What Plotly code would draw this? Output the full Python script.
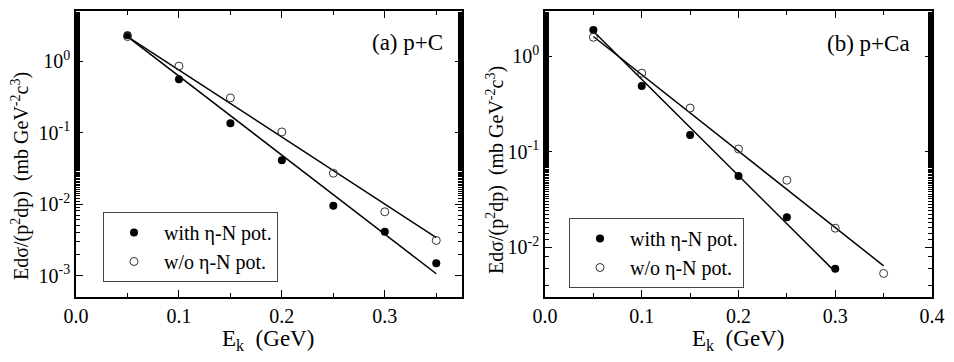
import plotly.graph_objects as go

# Ek values (GeV)
ek = [0.05, 0.10, 0.15, 0.20, 0.25, 0.30, 0.35]
ek_ca_with = [0.05, 0.10, 0.15, 0.20, 0.25, 0.30]

# (a) p+C
c_with = [2.3, 0.556, 0.135, 0.041, 0.0095, 0.0041, 0.00149]
c_wo = [2.2, 0.85, 0.305, 0.102, 0.027, 0.0078, 0.0031]
c_fit_x = [0.05, 0.35]
c_fit_with = [2.2, 0.00106]
c_fit_wo = [2.2, 0.0034]

# (b) p+Ca
ca_with = [1.9, 0.489, 0.15, 0.0559, 0.0206, 0.00593]
ca_wo = [1.59, 0.668, 0.288, 0.107, 0.0503, 0.0158, 0.0053]
ca_fit_with_x = [0.05, 0.30]
ca_fit_with = [1.84, 0.0055]
ca_fit_wo_x = [0.05, 0.35]
ca_fit_wo = [1.62, 0.00637]

FONT = "Liberation Serif, Times New Roman, serif"
# the page body has an 8px margin, so the figure is shrunk and shifted to fit the window
OFF = 8
W, H = 954 - 2 * OFF, 362 - 2 * OFF

def px(x):
    return (x - OFF) / W

def py(y):
    return 1 - (y - OFF) / H

fig = go.Figure()

def add_panel(xa, ya, leg, x_with, y_with, x_wo, y_wo, fits):
    for fx, fy in fits:
        fig.add_trace(go.Scatter(x=fx, y=fy, mode="lines", line=dict(color="black", width=1.5),
                                 showlegend=False, xaxis=xa, yaxis=ya))
    fig.add_trace(go.Scatter(x=x_with, y=y_with, mode="markers", name="with η-N pot.",
                             marker=dict(symbol="circle", size=8, color="black"),
                             xaxis=xa, yaxis=ya, legend=leg))
    fig.add_trace(go.Scatter(x=x_wo, y=y_wo, mode="markers", name="w/o η-N pot.",
                             marker=dict(symbol="circle-open", size=8, color="#333",
                                         line=dict(width=1)),
                             xaxis=xa, yaxis=ya, legend=leg))

add_panel("x", "y", "legend", ek, c_with, ek, c_wo,
          [(c_fit_x, c_fit_with), (c_fit_x, c_fit_wo)])
add_panel("x2", "y2", "legend2", ek_ca_with, ca_with, ek, ca_wo,
          [(ca_fit_with_x, ca_fit_with), (ca_fit_wo_x, ca_fit_wo)])

ax_common = dict(showline=True, linecolor="black", linewidth=1.5, mirror="ticks",
                 ticks="inside", tickcolor="black", tickwidth=1.2, showgrid=False,
                 zeroline=False, tickfont=dict(family=FONT, size=20, color="black"),
                 automargin=False)
xminor = dict(ticks="inside", tickvals=[0.05, 0.15, 0.25, 0.35], ticklen=4,
              tickcolor="black", tickwidth=1.2)
yminor = dict(ticks="inside", ticklen=4, tickcolor="black", tickwidth=1)

fig.update_layout(
    width=W, height=H,
    margin=dict(l=0, r=0, t=0, b=0),
    plot_bgcolor="white", paper_bgcolor="white",
    xaxis=dict(domain=[px(76), px(462)], range=[0, 0.375], tickvals=[0, 0.1, 0.2, 0.3],
               ticktext=["0.0", "0.1", "0.2", "0.3"], ticklen=7, anchor="y",
               minor=xminor, **ax_common),
    yaxis=dict(domain=[py(297), py(11)], type="log", range=[-3.3, 0.7],
               tickvals=[1e-3, 1e-2, 1e-1, 1], anchor="x",
               ticktext=["10<sup>-3</sup>", "10<sup>-2</sup>", "10<sup>-1</sup>", "10<sup>0</sup>"],
               ticklen=7, minor=yminor, **ax_common),
    xaxis2=dict(domain=[px(545), px(932)], range=[0, 0.4], tickvals=[0, 0.1, 0.2, 0.3, 0.4],
                ticktext=["0.0", "0.1", "0.2", "0.3", "0.4"], ticklen=7, anchor="y2",
                minor=xminor, **ax_common),
    yaxis2=dict(domain=[py(297), py(11)], type="log", range=[-2.523, 0.477],
                tickvals=[1e-2, 1e-1, 1], anchor="x2",
                ticktext=["10<sup>-2</sup>", "10<sup>-1</sup>", "10<sup>0</sup>"],
                ticklen=7, minor=yminor, **ax_common),
    legend=dict(x=px(103), y=py(212), xanchor="left", yanchor="top",
                bordercolor="#444", borderwidth=1, bgcolor="white",
                font=dict(family=FONT, size=20, color="black"), itemwidth=50),
    legend2=dict(x=px(569), y=py(218), xanchor="left", yanchor="top",
                 bordercolor="#444", borderwidth=1, bgcolor="white",
                 font=dict(family=FONT, size=20, color="black"), itemwidth=50),
)

ytitle = "Edσ/(p<sup>2</sup>dp)  (mb GeV<sup>-2</sup>c<sup>3</sup>)"
annotations = [
    dict(text="(a) p+C", x=px(445), y=py(42), xanchor="right", yanchor="middle",
         font=dict(family=FONT, size=23, color="black")),
    dict(text="(b) p+Ca", x=px(912), y=py(43), xanchor="right", yanchor="middle",
         font=dict(family=FONT, size=23, color="black")),
    dict(text="E<sub>k</sub>  (GeV)", x=px(268), y=py(324), xanchor="center",
         yanchor="top", font=dict(family=FONT, size=23, color="black")),
    dict(text="E<sub>k</sub>  (GeV)", x=px(738), y=py(324), xanchor="center",
         yanchor="top", font=dict(family=FONT, size=23, color="black")),
    dict(text=ytitle, x=px(20), y=py(176), textangle=-90, xanchor="center",
         yanchor="middle", font=dict(family=FONT, size=20, color="black")),
    dict(text=ytitle, x=px(495), y=py(170), textangle=-90, xanchor="center",
         yanchor="middle", font=dict(family=FONT, size=20, color="black")),
]
for a in annotations:
    a.update(xref="paper", yref="paper", showarrow=False)
fig.update_layout(annotations=annotations)

fig.write_html("out.html")
